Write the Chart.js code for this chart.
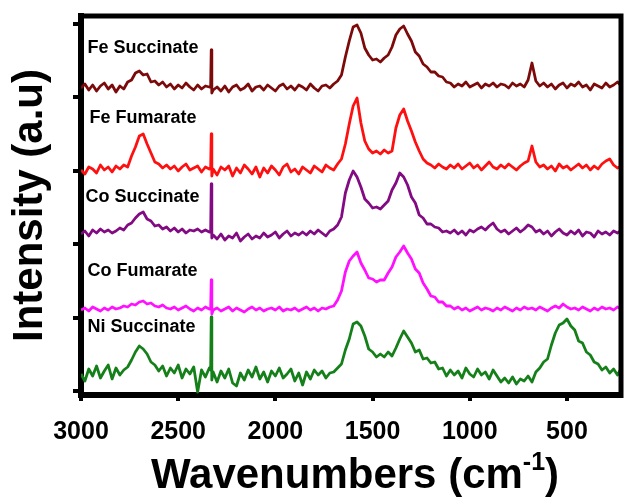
<!DOCTYPE html>
<html>
<head>
<meta charset="utf-8">
<script src="https://cdn.jsdelivr.net/npm/chart.js@4.4.1/dist/chart.umd.min.js"></script>
<style>
  html, body { margin: 0; padding: 0; background: #fff; }
  #wrap { width: 626px; height: 500px; }
</style>
</head>
<body>
<div id="wrap"><canvas id="ramanChart"></canvas></div>
<script>
// Raman spectra, stacked. Wavenumber grid (cm-1), shared by all five spectra
const wavenumbers = [
  3000, 2980, 2960, 2940, 2920, 2900, 2880, 2860, 2840, 2820,
  2800, 2780, 2760, 2740, 2720, 2700, 2680, 2660, 2640, 2620,
  2600, 2580, 2560, 2540, 2520, 2500, 2480, 2460, 2440, 2420,
  2400, 2380, 2360, 2340, 2333, 2330, 2327, 2320, 2300, 2280,
  2260, 2240, 2220, 2200, 2180, 2160, 2140, 2120, 2100, 2080,
  2060, 2040, 2020, 2000, 1980, 1960, 1940, 1920, 1900, 1880,
  1860, 1840, 1820, 1800, 1780, 1760, 1740, 1720, 1700, 1680,
  1660, 1640, 1620, 1600, 1580, 1560, 1540, 1520, 1500, 1480,
  1460, 1440, 1420, 1400, 1380, 1360, 1340, 1320, 1300, 1280,
  1260, 1240, 1220, 1200, 1180, 1160, 1140, 1120, 1100, 1080,
  1060, 1040, 1020, 1000, 980, 960, 940, 920, 900, 880,
  860, 840, 820, 800, 780, 760, 740, 720, 700, 680,
  660, 640, 620, 600, 580, 560, 540, 520, 500, 480,
  460, 440, 420, 400, 380, 360, 340, 320, 300, 280,
  260, 240, 220
];

// intensities above each trace's own baseline (a.u.)
const feSuccinate = [
  0, 4, -2, 3, -3, 2, 5, -1, 3, -4,
  2, -1, 6, 8, 15, 17, 13, 14, 6, 7,
  3, 6, 1, 4, -1, 3, 0, 5, 1, -2,
  3, -1, 2, 1, 1, 38, -5, -2, 1, -3,
  2, -4, 1, 3, -2, 0, 4, -3, 1, 2,
  -2, 3, 0, -3, 2, 4, -1, 2, -2, 3,
  1, -2, 4, 0, -3, 2, 3, 0, 4, 7,
  13, 31, 47, 61, 63, 55, 40, 33, 28, 29,
  26, 30, 33, 41, 53, 59, 62, 54, 47, 36,
  32, 24, 21, 16, 16, 12, 11, 6, 5, 1,
  4, 2, 6, 1, 3, 5, 0, 4, 2, 5,
  1, 4, 3, 0, 5, 2, 4, 1, 8, 25,
  7, 2, 5, 1, 4, -1, 3, 5, 0, 4,
  2, 6, 1, 3, -2, 4, 2, 0, 5, 1,
  3, 6, 2
];
const feFumarate = [
  0, -4, 3, 1, -3, 5, 0, 3, -2, 4,
  1, 5, 3, 14, 23, 34, 36, 26, 17, 8,
  6, 2, 5, 1, 4, -1, 3, 6, 0, 2,
  4, -2, 3, 1, 2, 36, -6, 1, -5, 3,
  0, 4, -6, 2, -3, 5, 1, -4, 3, -7,
  2, -3, 4, 0, -5, 3, 6, -2, 1, -4,
  3, 0, -3, 4, 1, -2, 5, 2, 0, 6,
  11, 26, 46, 64, 72, 47, 29, 21, 17, 19,
  16, 20, 17, 19, 42, 55, 61, 49, 39, 28,
  19, 11, 7, 5, 2, 6, 3, 1, 5, 2,
  6, 1, 4, 7, 2, 5, 0, 4, 8, 3,
  1, 5, 2, 6, 3, 0, 4, 7, 9, 24,
  8, 3, 5, 1, 4, -1, 6, 2, 4, 0,
  3, 6, 2, 5, 0, 4, 1, 6, 9, 11,
  5, 2, 4
];
const coSuccinate = [
  0, 3, -2, 4, 1, 5, 2, 4, 1, 3,
  6, 4, 9, 11, 16, 20, 22, 15, 13, 8,
  9, 5, 7, 3, 6, 2, 5, 1, 4, 3,
  5, 2, 4, 2, 2, 50, -4, -1, -5, 0,
  -6, -2, -4, 1, -7, -3, 0, -5, -2, -4,
  1, -3, -1, 2, -4, 0, 3, -2, 1, -1,
  2, -1, 3, 0, 4, 1, -2, 3, 5, 9,
  17, 41, 54, 63, 57, 47, 35, 31, 26, 27,
  25, 29, 33, 44, 51, 61, 57, 49, 37, 31,
  19, 16, 10, 10, 7, 6, 2, 3, 1, 4,
  0, 3, -1, 4, 2, 5, 7, 4, 8, 11,
  5, 2, 4, 0, 3, 6, 2, 5, 9, 7,
  2, 4, 0, 3, -2, 2, 5, 1, -1, 3,
  0, 4, -2, 2, 1, -3, 3, 0, 2, -1,
  3, 1, 4
];
const coFumarate = [
  0, 2, -1, 3, 1, -1, 2, 0, 3, 1,
  2, 4, 3, 6, 5, 8, 9, 6, 7, 4,
  3, 5, 2, 1, 3, 0, 2, 4, 1, -1,
  2, 0, 3, 1, 1, 30, -4, 0, 2, -1,
  1, 3, -1, 2, 0, -2, 1, 3, 0, 2,
  -1, 1, 2, 0, 3, -1, 1, 0, 2, -1,
  1, 3, 0, 2, -1, 2, 1, 3, 4, 10,
  19, 38, 49, 54, 58, 47, 40, 32, 31, 28,
  30, 30, 37, 43, 53, 58, 64, 57, 51, 41,
  37, 27, 21, 14, 13, 8, 8, 4, 4, 1,
  3, 0, 2, -1, 1, 3, 0, 2, 1, -1,
  2, 0, 3, 1, -1, 2, 0, 3, 1, 2,
  0, 3, 1, -1, 2, 4, 2, 6, 3, 1,
  2, 0, 3, 1, -1, 2, 0, 3, 1, 2,
  0, 3, 1
];
const niSuccinate = [
  0, -7, 5, -2, 8, -4, 3, 9, -5, 6,
  -1, 4, 7, 14, 22, 28, 25, 20, 12, 9,
  3, 8, -2, 6, 1, 9, -4, 5, 0, 7,
  -18, 4, -3, 6, 4, 57, -6, 2, -8, 3,
  -4, 5, -9, -12, 1, -6, 4, -3, 7, -5,
  2, -8, 3, -2, 6, -4, 0, 5, -7, 1,
  -11, 2, -5, 4, -1, 3, -4, 1, 2, 6,
  10, 24, 35, 50, 52, 48, 38, 25, 22, 17,
  20, 17, 22, 18, 26, 35, 43, 37, 31, 22,
  24, 15, 16, 11, 12, 5, 6, -2, 4, -1,
  3, -4, 6, 0, -3, 5, -1, 2, -5, 4,
  -2, -8, -4, -9, -3, -10, -5, -7, -2, -8,
  2, 6, 12, 15, 29, 41, 49, 51, 55, 48,
  44, 33, 31, 22, 19, 12, 10, 4, 7, 1,
  5, -1, 6
];

const seriesNames = ['Fe Succinate', 'Fe Fumarate', 'Co Succinate', 'Co Fumarate', 'Ni Succinate'];
const seriesValues = [feSuccinate, feFumarate, coSuccinate, coFumarate, niSuccinate];
const stackOffsets = [303, 221, 157, 81, 17];
const seriesColors = ['#7d0a0a', '#ff1010', '#820a82', '#ff10ff', '#15801a'];

const xTicks = [500, 1000, 1500, 2000, 2500, 3000];
const yTicks = [0, 73, 147, 220, 294, 367];

// where each trace name sits (wavenumber, a.u.)
const labelPos = [[2967, 343], [2956, 273], [2977, 194], [2967, 120], [2967, 64]];

const datasets = seriesNames.map((name, i) => ({
    label: name,
    data: wavenumbers.map((w, j) => ({ x: w, y: seriesValues[i][j] + stackOffsets[i] })),
    borderColor: seriesColors[i],
    borderWidth: 2.8,
    borderJoinStyle: 'round',
    pointRadius: 0,
    tension: 0,
    fill: false
}));

const framePlugin = {
    id: 'frameAndText',
    afterDraw(chart) {
        const { ctx, chartArea: a, scales } = chart;
        ctx.save();
        // top & right frame
        ctx.strokeStyle = '#000';
        ctx.lineWidth = 5;
        ctx.beginPath();
        ctx.moveTo(a.left - 3, a.top);
        ctx.lineTo(a.right, a.top);
        ctx.lineTo(a.right, a.bottom + 3);
        ctx.stroke();

        // trace names
        ctx.fillStyle = '#000';
        ctx.font = 'bold 18px "Liberation Sans", Arial, sans-serif';
        ctx.textAlign = 'left';
        ctx.textBaseline = 'middle';
        seriesNames.forEach((name, i) => {
            ctx.fillText(name, scales.x.getPixelForValue(labelPos[i][0]), scales.y.getPixelForValue(labelPos[i][1]));
        });

        // x title with superscript
        const big = 'bold 42px "Liberation Sans", Arial, sans-serif';
        const small = 'bold 25px "Liberation Sans", Arial, sans-serif';
        const t1 = 'Wavenumbers (cm', t2 = '-1', t3 = ')';
        ctx.font = big;
        const w1 = ctx.measureText(t1).width, w3 = ctx.measureText(t3).width;
        ctx.font = small;
        const w2 = ctx.measureText(t2).width;
        let x = (a.left + a.right) / 2 + 4 - (w1 + w2 + w3) / 2;
        const yb = chart.height - 12;
        ctx.textBaseline = 'alphabetic';
        ctx.font = big; ctx.fillText(t1, x, yb); x += w1;
        ctx.font = small; ctx.fillText(t2, x, yb - 18); x += w2;
        ctx.font = big; ctx.fillText(t3, x, yb);

        // y title
        ctx.translate(30, (a.top + a.bottom) / 2);
        ctx.rotate(-Math.PI / 2);
        ctx.textAlign = 'center';
        ctx.textBaseline = 'middle';
        ctx.font = big;
        ctx.fillText('Intensity (a.u)', 0, 0);
        ctx.restore();
    }
};

new Chart(document.getElementById('ramanChart'), {
    type: 'line',
    data: { datasets: datasets },
    options: {
        responsive: true,
        maintainAspectRatio: false,
        animation: false,
        layout: { padding: { top: 16, right: 5, left: 0, bottom: 0 } },
        plugins: { legend: { display: false }, tooltip: { enabled: false } },
        scales: {
            x: {
                type: 'linear',
                reverse: true,
                min: 222,
                max: 3000,
                afterBuildTicks: s => { s.ticks = xTicks.map(v => ({ value: v })); },
                afterFit: s => { s.height = 105; },
                border: { display: true, width: 6, color: '#000' },
                grid: { drawOnChartArea: false, drawTicks: true, tickLength: 6, lineWidth: 4, color: '#000' },
                ticks: {
                    color: '#000',
                    padding: 16,
                    maxRotation: 0,
                    callback: v => String(v),
                    font: { family: '"Liberation Sans", Arial, sans-serif', size: 25, weight: 'bold' }
                }
            },
            y: {
                type: 'linear',
                min: -4,
                max: 375,
                afterBuildTicks: s => { s.ticks = yTicks.map(v => ({ value: v })); },
                afterFit: s => { s.width = 81; },
                border: { display: true, width: 6, color: '#000' },
                grid: { drawOnChartArea: false, drawTicks: true, tickLength: 8, lineWidth: 4, color: '#000' },
                ticks: { display: false }
            }
        }
    },
    plugins: [framePlugin]
});
</script>
</body>
</html>
